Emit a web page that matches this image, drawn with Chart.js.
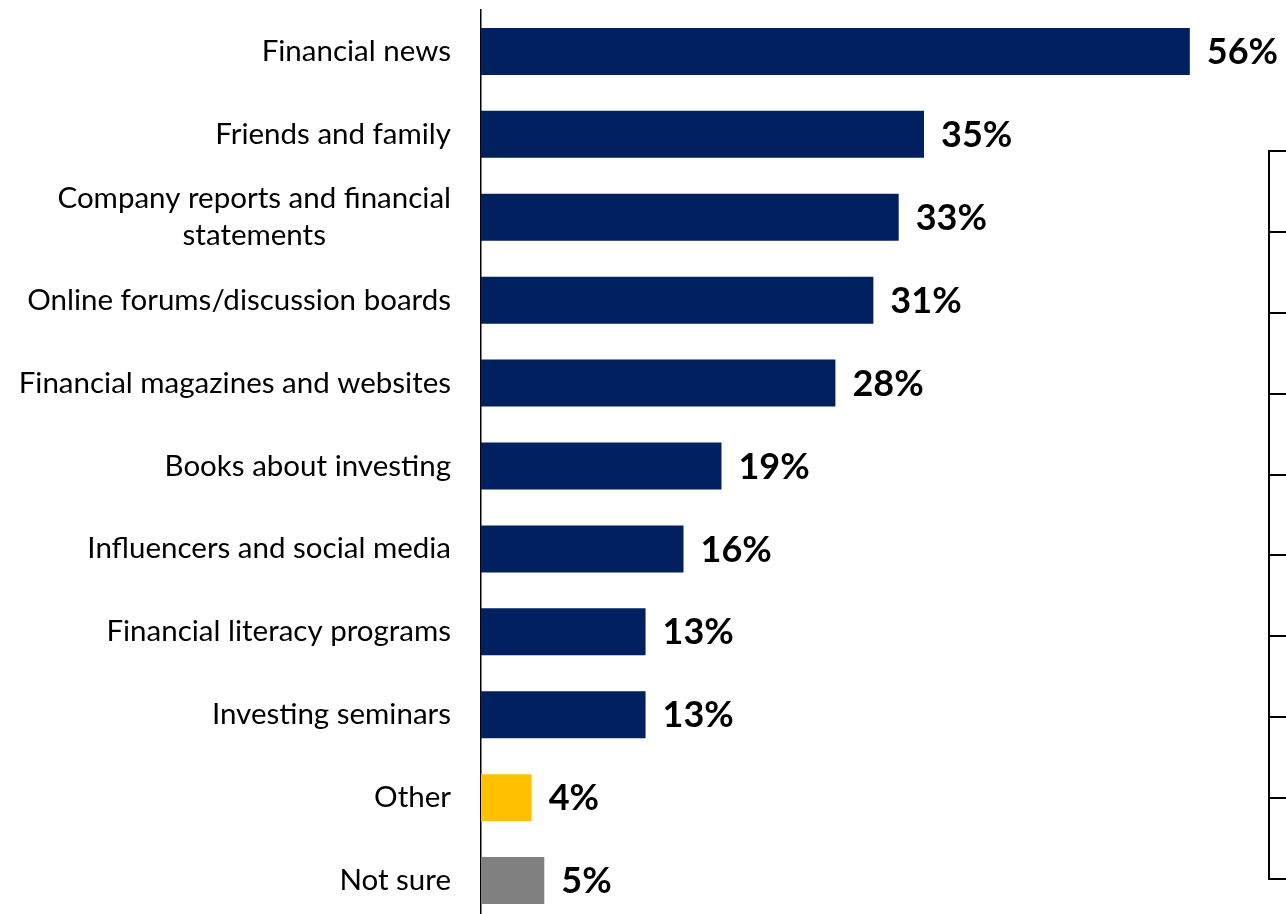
<!DOCTYPE html>
<html>
<head>
<meta charset="utf-8">
<script src="https://cdn.jsdelivr.net/npm/chart.js@4.4.1/dist/chart.umd.min.js"></script>
<style>
  html, body { margin: 0; padding: 0; background: #fff; overflow: hidden; }
  #wrap { position: relative; width: 1286px; height: 914px; overflow: hidden; background: #fff; }
  #main { position: absolute; left: 0; top: 0; }
  #side { position: absolute; left: 1200px; top: 0; }
</style>
</head>
<body>
<div id="wrap">
  <canvas id="main" width="1286" height="922"></canvas>
  <canvas id="side" width="200" height="914"></canvas>
</div>
<script>
// Sources of investing information, share of respondents (%)
const categories = [
  'Financial news',
  'Friends and family',
  ['Company reports and financial', 'statements'],
  'Online forums/discussion boards',
  'Financial magazines and websites',
  'Books about investing',
  'Influencers and social media',
  'Financial literacy programs',
  'Investing seminars',
  'Other',
  'Not sure'
];
const shares = [56, 35, 33, 31, 28, 19, 16, 13, 13, 4, 5];

// Rows of the neighbouring panel whose left axis shows at the right edge
const sideRows = ['', '', '', '', '', '', '', '', ''];

const NAVY = '#002060';
const GOLD = '#FFC000';
const GREY = '#808080';
const barColors = categories.map((c) =>
  c === 'Other' ? GOLD : (c === 'Not sure' ? GREY : NAVY));

const FONT = 'Lato, "Open Sans", sans-serif';
const LABEL_SIZE = 29.5;
const LABEL_LINE = 37;
const LABEL_PAD = 30;

// Bold percentage printed just past the end of each bar
const valueLabels = {
  id: 'valueLabels',
  afterDatasetsDraw(chart) {
    const ctx = chart.ctx;
    const meta = chart.getDatasetMeta(0);
    ctx.save();
    ctx.fillStyle = '#000';
    ctx.font = 'bold 36px ' + FONT;
    ctx.textAlign = 'left';
    ctx.textBaseline = 'middle';
    meta.data.forEach((bar, i) => {
      ctx.fillText(shares[i] + '%', bar.x + 17, bar.y + 1);
    });
    ctx.restore();
  }
};

// Wrapped category names: the block sits right-aligned, its lines centred
const wrappedLabels = {
  id: 'wrappedLabels',
  afterDraw(chart) {
    const ctx = chart.ctx;
    const y = chart.scales.y;
    ctx.save();
    ctx.fillStyle = '#000';
    ctx.font = LABEL_SIZE + 'px ' + FONT;
    ctx.textAlign = 'center';
    ctx.textBaseline = 'middle';
    categories.forEach((lbl, i) => {
      if (!Array.isArray(lbl)) return;
      const w = Math.max(...lbl.map(s => ctx.measureText(s).width));
      const cx = y.right - LABEL_PAD - w / 2;
      const cy = y.getPixelForTick(i);
      lbl.forEach((s, k) => {
        ctx.fillText(s, cx, cy + (k - (lbl.length - 1) / 2) * LABEL_LINE);
      });
    });
    ctx.restore();
  }
};

new Chart(document.getElementById('main'), {
  type: 'bar',
  data: {
    labels: categories,
    datasets: [{
      data: shares,
      backgroundColor: barColors,
      borderWidth: 0,
      categoryPercentage: 1,
      barPercentage: 0.567
    }]
  },
  options: {
    indexAxis: 'y',
    responsive: false,
    animation: false,
    layout: { padding: { top: 10, right: 0, bottom: 0, left: 0 } },
    plugins: { legend: { display: false }, tooltip: { enabled: false } },
    scales: {
      x: { display: false, min: 0, max: 63.6 },
      y: {
        afterFit(scale) {
          scale.width = 481;
          scale.paddingTop = 0;
          scale.paddingBottom = 0;
        },
        border: { display: true, color: '#000', width: 1.5 },
        grid: { display: true, drawOnChartArea: false, drawTicks: false },
        ticks: {
          color: (ctx) => Array.isArray(categories[ctx.index]) ? 'rgba(0,0,0,0)' : '#000',
          padding: LABEL_PAD,
          font: { family: FONT, size: LABEL_SIZE, lineHeight: LABEL_LINE / LABEL_SIZE }
        }
      }
    }
  },
  plugins: [valueLabels, wrappedLabels]
});

// Left axis of the adjoining panel, cut by the page edge
new Chart(document.getElementById('side'), {
  type: 'bar',
  data: { labels: sideRows, datasets: [{ data: [] }] },
  options: {
    indexAxis: 'y',
    responsive: false,
    animation: false,
    layout: { padding: { top: 151, right: 0, bottom: 35, left: 69 } },
    plugins: { legend: { display: false }, tooltip: { enabled: false } },
    scales: {
      x: { display: false },
      y: {
        afterFit(scale) { scale.width = 0; },
        border: { display: true, color: '#000', width: 2 },
        grid: { display: true, offset: true, color: '#000', lineWidth: 2, drawTicks: false },
        ticks: { display: false }
      }
    }
  }
});
</script>
</body>
</html>
